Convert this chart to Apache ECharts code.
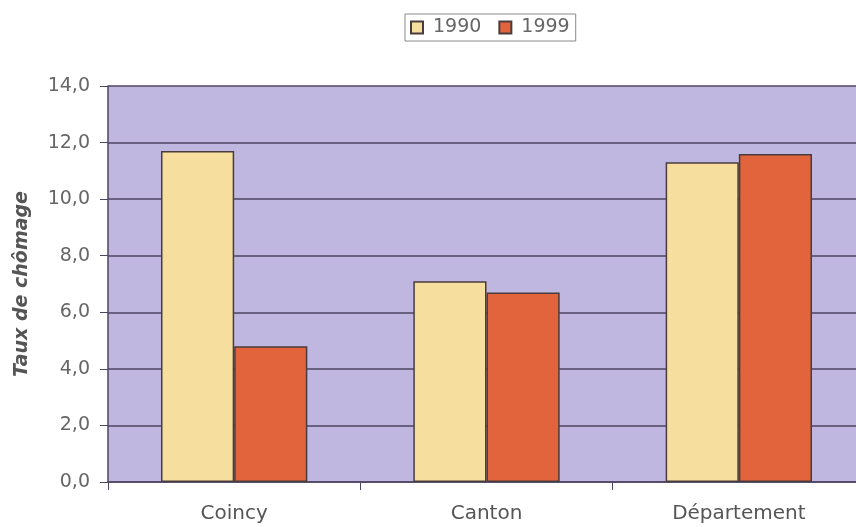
<!DOCTYPE html>
<html>
<head>
<meta charset="utf-8">
<script src="https://cdn.jsdelivr.net/npm/echarts@6/dist/echarts.min.js"></script>
<style>
  html, body { margin: 0; padding: 0; background: #ffffff; overflow: hidden; }
  /* plot area runs slightly past the right edge of the window */
  #chart { width: 868px; height: 527px; }
</style>
</head>
<body>
<div id="chart"></div>
<script>
// Unemployment rate by area, 1990 vs 1999
const categories = ['Coincy', 'Canton', 'Département'];
const rate1990 = [11.7, 7.1, 11.3];
const rate1999 = [4.8, 6.7, 11.6];
const seriesNames = ['1990', '1999'];

const chart = echarts.init(document.getElementById('chart'), null, { renderer: 'canvas' });

const barBorder = { borderColor: '#4a3c3c', borderWidth: 1.5 };
const font = 'DejaVu Sans';

chart.setOption({
  animation: false,
  backgroundColor: '#ffffff',
  legend: {
    data: seriesNames,
    top: 14,
    left: 405,
    itemWidth: 12,
    itemHeight: 12,
    itemGap: 17,
    padding: [4, 6, 4, 5],
    borderColor: '#8a8a8a',
    borderWidth: 1,
    textStyle: { fontFamily: font, fontSize: 19, color: '#666666', padding: [0, 0, 0, 5] },
    icon: 'rect'
  },
  grid: {
    left: 108,
    right: 3,
    top: 86,
    bottom: 45,
    show: true,
    backgroundColor: '#bfb7df',
    borderWidth: 0
  },
  xAxis: {
    type: 'category',
    data: categories,
    axisLine: { lineStyle: { color: '#4e4560', width: 1.5 } },
    axisTick: { show: true, length: 8, lineStyle: { color: '#4e4560' } },
    axisLabel: {
      fontFamily: font,
      fontSize: 20,
      color: '#555555',
      margin: 22
    }
  },
  yAxis: {
    type: 'value',
    min: 0,
    max: 14,
    interval: 2,
    name: 'Taux de chômage',
    nameLocation: 'middle',
    nameGap: 76,
    nameRotate: 90,
    nameTextStyle: {
      fontFamily: font,
      fontSize: 19,
      fontStyle: 'italic',
      fontWeight: 'bold',
      color: '#555555'
    },
    axisLine: { show: true, lineStyle: { color: '#4e4560', width: 1.5 } },
    axisTick: { show: true, length: 8, lineStyle: { color: '#4e4560' } },
    axisLabel: {
      fontFamily: font,
      fontSize: 19,
      color: '#666666',
      margin: 18,
      formatter: v => v.toFixed(1).replace('.', ',')
    },
    splitLine: { show: true, lineStyle: { color: '#4e4560', width: 1.5 } }
  },
  series: [
    {
      name: seriesNames[0],
      type: 'bar',
      data: rate1990,
      barGap: '0%',
      barCategoryGap: '42%',
      itemStyle: Object.assign({ color: '#f6df9e' }, barBorder)
    },
    {
      name: seriesNames[1],
      type: 'bar',
      data: rate1999,
      itemStyle: Object.assign({ color: '#e2643d' }, barBorder)
    }
  ]
});
</script>
</body>
</html>
